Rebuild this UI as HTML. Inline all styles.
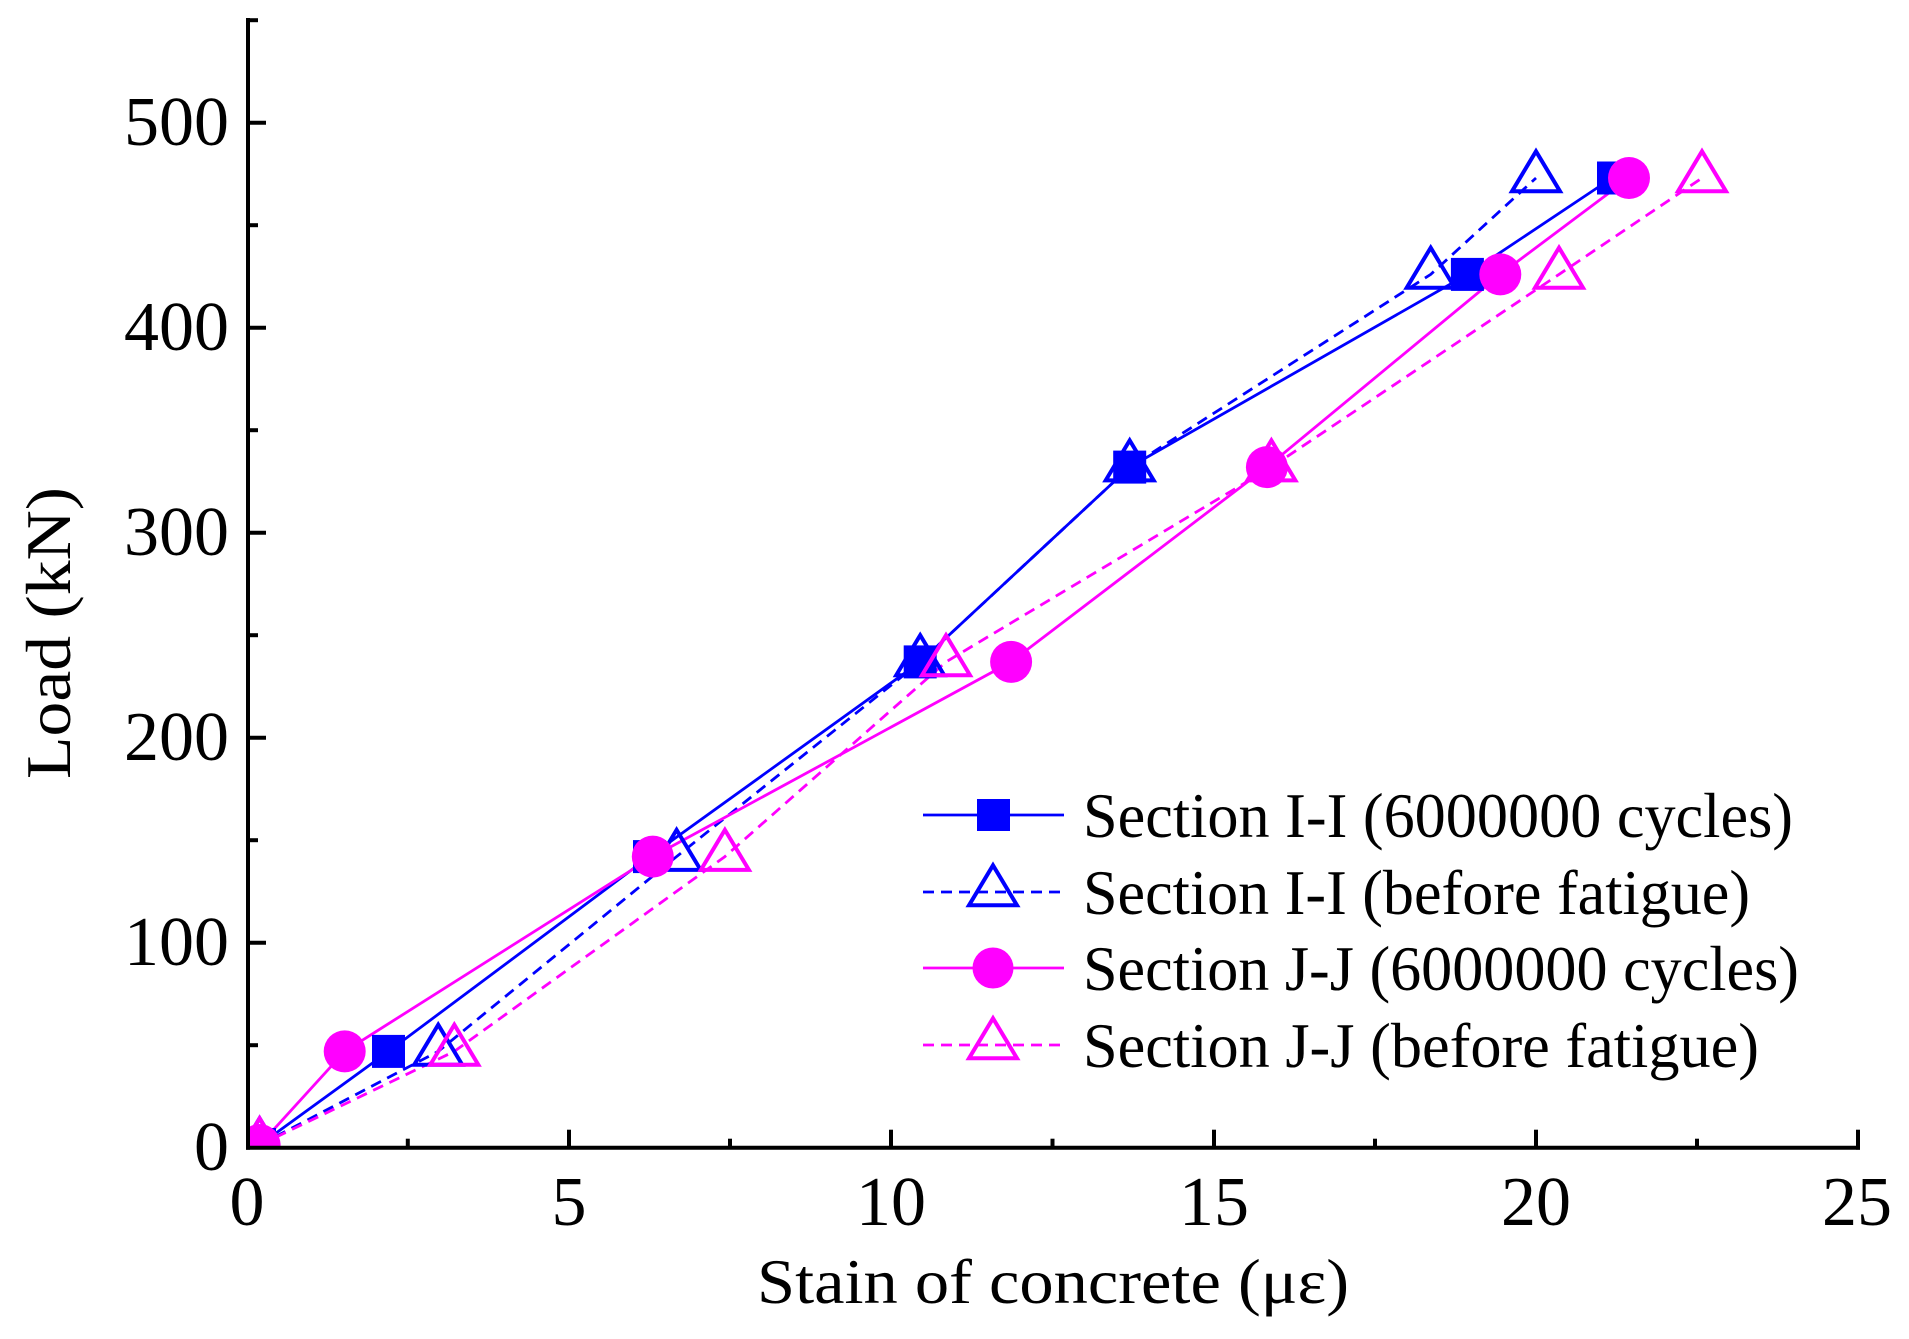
<!DOCTYPE html>
<html><head><meta charset="utf-8"><style>
html,body{margin:0;padding:0;background:#fff;}
svg{display:block;}
text{font-family:"Liberation Serif","DejaVu Serif",serif;fill:#000;}
</style></head><body>
<svg width="1909" height="1339" viewBox="0 0 1909 1339" xmlns="http://www.w3.org/2000/svg">
<defs>
<path id="tri" d="M0,-26.7 L24,13.3 L-24,13.3 Z"/>
<clipPath id="pc"><rect x="250" y="0" width="1700" height="1146"/></clipPath>
</defs>

<g clip-path="url(#pc)">
<!-- series lines -->
<g fill="none" stroke-width="2.8">
<polyline stroke="#0000ff" points="259.6,1145 388.5,1051.4 649.5,856.6 920.2,661.9 1129.7,467.1 1467.4,274.4 1612,178"/>
<polyline stroke="#0000ff" stroke-dasharray="11,7" points="259.6,1145 438.2,1051.4 676.6,856.6 920.2,661.9 1129.7,467.1 1430.7,274.4 1536,178"/>
<polyline stroke="#ff00ff" points="259.6,1145 344.7,1051.4 652.8,856.6 1011.1,661.9 1266.9,467.1 1500.3,274.4 1629,178"/>
<polyline stroke="#ff00ff" stroke-dasharray="11,7" points="259.6,1145 454.3,1051.4 724.9,856.6 946,661.9 1271.4,467.1 1559,274.4 1702,178"/>
</g>
<!-- markers -->
<g fill="#0000ff">
<rect x="243" y="1128" width="33" height="33"/>
<rect x="372" y="1034.9" width="33" height="33"/>
<rect x="633" y="840.1" width="33" height="33"/>
<rect x="903.7" y="645.4" width="33" height="33"/>
<rect x="1113.2" y="450.6" width="33" height="33"/>
<rect x="1450.9" y="257.9" width="33" height="33"/>
<rect x="1597" y="161.5" width="33" height="33"/>
</g>
<g fill="none" stroke="#0000ff" stroke-width="4">
<use href="#tri" x="259.6" y="1145"/>
<use href="#tri" x="438.2" y="1051.4"/>
<use href="#tri" x="676.6" y="856.6"/>
<use href="#tri" x="920.2" y="661.9"/>
<use href="#tri" x="1129.7" y="467.1"/>
<use href="#tri" x="1430.7" y="274.4"/>
<use href="#tri" x="1536" y="178"/>
</g>
<g fill="#ff00ff">
<circle cx="259.6" cy="1145" r="21"/>
<circle cx="344.7" cy="1051.4" r="21"/>
<circle cx="652.8" cy="856.6" r="21"/>
<circle cx="1011.1" cy="661.9" r="21"/>
<circle cx="1266.9" cy="467.1" r="21"/>
<circle cx="1500.3" cy="274.4" r="21"/>
<circle cx="1629" cy="178" r="21"/>
</g>
<g fill="none" stroke="#ff00ff" stroke-width="4">
<use href="#tri" x="259.6" y="1145"/>
<use href="#tri" x="454.3" y="1051.4"/>
<use href="#tri" x="724.9" y="856.6"/>
<use href="#tri" x="946" y="661.9"/>
<use href="#tri" x="1271.4" y="467.1"/>
<use href="#tri" x="1559" y="274.4"/>
<use href="#tri" x="1702" y="178"/>
</g>
</g>

<!-- axes -->
<g stroke="#000" stroke-width="4" fill="none">
<line x1="248" y1="18" x2="248" y2="1149.7"/>
<line x1="246" y1="1147.7" x2="1860" y2="1147.7"/>
<line x1="248" y1="122.7" x2="266" y2="122.7"/>
<line x1="248" y1="327.7" x2="266" y2="327.7"/>
<line x1="248" y1="532.7" x2="266" y2="532.7"/>
<line x1="248" y1="737.7" x2="266" y2="737.7"/>
<line x1="248" y1="942.7" x2="266" y2="942.7"/>
<line x1="248" y1="20.2" x2="258" y2="20.2"/>
<line x1="248" y1="225.2" x2="258" y2="225.2"/>
<line x1="248" y1="430.2" x2="258" y2="430.2"/>
<line x1="248" y1="635.2" x2="258" y2="635.2"/>
<line x1="248" y1="840.2" x2="258" y2="840.2"/>
<line x1="248" y1="1045.2" x2="258" y2="1045.2"/>
<line x1="569" y1="1147.7" x2="569" y2="1129.7"/>
<line x1="891" y1="1147.7" x2="891" y2="1129.7"/>
<line x1="1214" y1="1147.7" x2="1214" y2="1129.7"/>
<line x1="1536" y1="1147.7" x2="1536" y2="1129.7"/>
<line x1="1858" y1="1149.7" x2="1858" y2="1129.7"/>
<line x1="407.8" y1="1147.7" x2="407.8" y2="1138.7"/>
<line x1="730" y1="1147.7" x2="730" y2="1138.7"/>
<line x1="1052.5" y1="1147.7" x2="1052.5" y2="1138.7"/>
<line x1="1375" y1="1147.7" x2="1375" y2="1138.7"/>
<line x1="1697" y1="1147.7" x2="1697" y2="1138.7"/>
</g>
<g font-size="70" text-anchor="end">
<text x="229" y="145">500</text>
<text x="229" y="350">400</text>
<text x="229" y="555">300</text>
<text x="229" y="760">200</text>
<text x="229" y="965">100</text>
<text x="229" y="1170">0</text>
</g>
<g font-size="70" text-anchor="middle">
<text x="247" y="1225">0</text>
<text x="569" y="1225">5</text>
<text x="891" y="1225">10</text>
<text x="1214" y="1225">15</text>
<text x="1536" y="1225">20</text>
<text x="1857" y="1225">25</text>
</g>
<text x="1053" y="1303" font-size="64" text-anchor="middle" textLength="592" lengthAdjust="spacingAndGlyphs">Stain of concrete  (με)</text>
<text transform="translate(70,633) rotate(-90)" font-size="64" text-anchor="middle" textLength="292" lengthAdjust="spacingAndGlyphs">Load (kN)</text>

<!-- legend -->
<g stroke-width="2.8" fill="none">
<line x1="923" y1="815" x2="1064" y2="815" stroke="#0000ff"/>
<line x1="923" y1="892" x2="1064" y2="892" stroke="#0000ff" stroke-dasharray="11,7"/>
<line x1="923" y1="968" x2="1064" y2="968" stroke="#ff00ff"/>
<line x1="923" y1="1045" x2="1064" y2="1045" stroke="#ff00ff" stroke-dasharray="11,7"/>
</g>
<rect x="977" y="799" width="33" height="32" fill="#0000ff"/>
<use href="#tri" x="993" y="892" fill="none" stroke="#0000ff" stroke-width="4"/>
<circle cx="993" cy="968" r="20.5" fill="#ff00ff"/>
<use href="#tri" x="993" y="1045" fill="none" stroke="#ff00ff" stroke-width="4"/>
<g font-size="63">
<text x="1083" y="837" textLength="710" lengthAdjust="spacingAndGlyphs">Section I-I (6000000 cycles)</text>
<text x="1083" y="914" textLength="667" lengthAdjust="spacingAndGlyphs">Section I-I (before fatigue)</text>
<text x="1083" y="990" textLength="716" lengthAdjust="spacingAndGlyphs">Section J-J (6000000 cycles)</text>
<text x="1083" y="1067" textLength="676" lengthAdjust="spacingAndGlyphs">Section J-J (before fatigue)</text>
</g>
</svg>
</body></html>
